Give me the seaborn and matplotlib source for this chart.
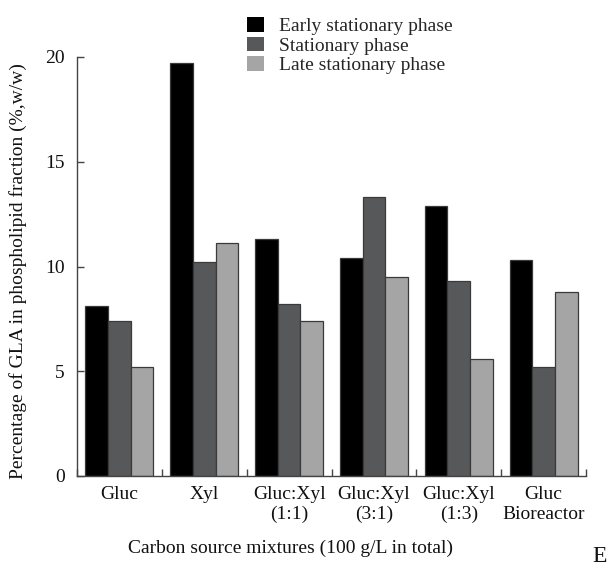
import numpy as np
import pandas as pd
import matplotlib
matplotlib.use("Agg")
import matplotlib.pyplot as plt
import matplotlib.patches as mpatches
import seaborn as sns

categories = ["Gluc", "Xyl", "Gluc:Xyl\n(1:1)", "Gluc:Xyl\n(3:1)", "Gluc:Xyl\n(1:3)", "Gluc\nBioreactor"]
phases = ["Early stationary phase", "Stationary phase", "Late stationary phase"]
early = [8.1, 19.7, 11.3, 10.4, 12.9, 10.3]
stationary = [7.4, 10.2, 8.2, 13.3, 9.3, 5.2]
late = [5.2, 11.1, 7.4, 9.5, 5.6, 8.8]
colors = ["#000000", "#57585a", "#a5a5a5"]

rows = []
for ph, vals in zip(phases, [early, stationary, late]):
    for c, v in zip(categories, vals):
        rows.append({"source": c, "phase": ph, "value": v})
df = pd.DataFrame(rows)

sns.set_theme(style="white")
plt.rcParams["font.family"] = ["Liberation Serif", "DejaVu Serif"]
plt.rcParams["font.size"] = 14

fig = plt.figure(figsize=(6.08, 5.68), dpi=100)
ax = fig.add_axes([77/608, 1 - 476/568, 509/608, 419/568])

sns.barplot(data=df, x="source", y="value", hue="phase", order=categories,
            hue_order=phases, palette=colors, saturation=1, width=0.8,
            edgecolor="#3a3a3a", linewidth=0.9, errorbar=None, ax=ax)

ax.set_xlim(-0.5, 5.5)
ax.set_ylim(0, 20)
ax.set_yticks([0, 5, 10, 15, 20])
ax.set_xticks(np.arange(len(categories)))
ax.set_xticklabels(categories, linespacing=1.25)
ax.set_xticks(np.arange(-0.5, 5.6, 1.0), minor=True)
ax.tick_params(axis="x", which="major", length=0, pad=7, labelsize=14, colors="#111111")
ax.tick_params(axis="x", which="minor", direction="in", length=5, width=1, color="#444444", bottom=True)
ax.tick_params(axis="y", which="major", direction="in", length=5, width=1, color="#444444",
               pad=9, labelsize=14, labelcolor="#111111", left=True)

for s in ["top", "right"]:
    ax.spines[s].set_visible(False)
for s in ["left", "bottom"]:
    ax.spines[s].set_color("#444444")
    ax.spines[s].set_linewidth(1.0)

ax.set_ylabel("Percentage of GLA in phospholipid fraction (%,w/w)", fontsize=14, va="center", color="#111111")
ax.yaxis.set_label_coords((18 - 77) / 509, 0.49)
ax.set_xlabel("Carbon source mixtures (100 g/L in total)", fontsize=14, va="center", color="#111111")
ax.xaxis.set_label_coords((291 - 77) / 509, -(548 - 476) / 419)

handles = [mpatches.Patch(facecolor=c, edgecolor="none") for c in colors]
ax.legend(handles, phases, loc="upper left", bbox_to_anchor=(247/608, 1 - 17/568),
          bbox_transform=fig.transFigure, frameon=False, borderaxespad=0, borderpad=0,
          handlelength=0.88, handleheight=0.78, handletextpad=0.75, labelspacing=0.08,
          fontsize=14)

fig.text(592/608, 1/568, "E", fontsize=17, ha="left", va="bottom", color="#111111")

fig.savefig("out.png", dpi=100)
